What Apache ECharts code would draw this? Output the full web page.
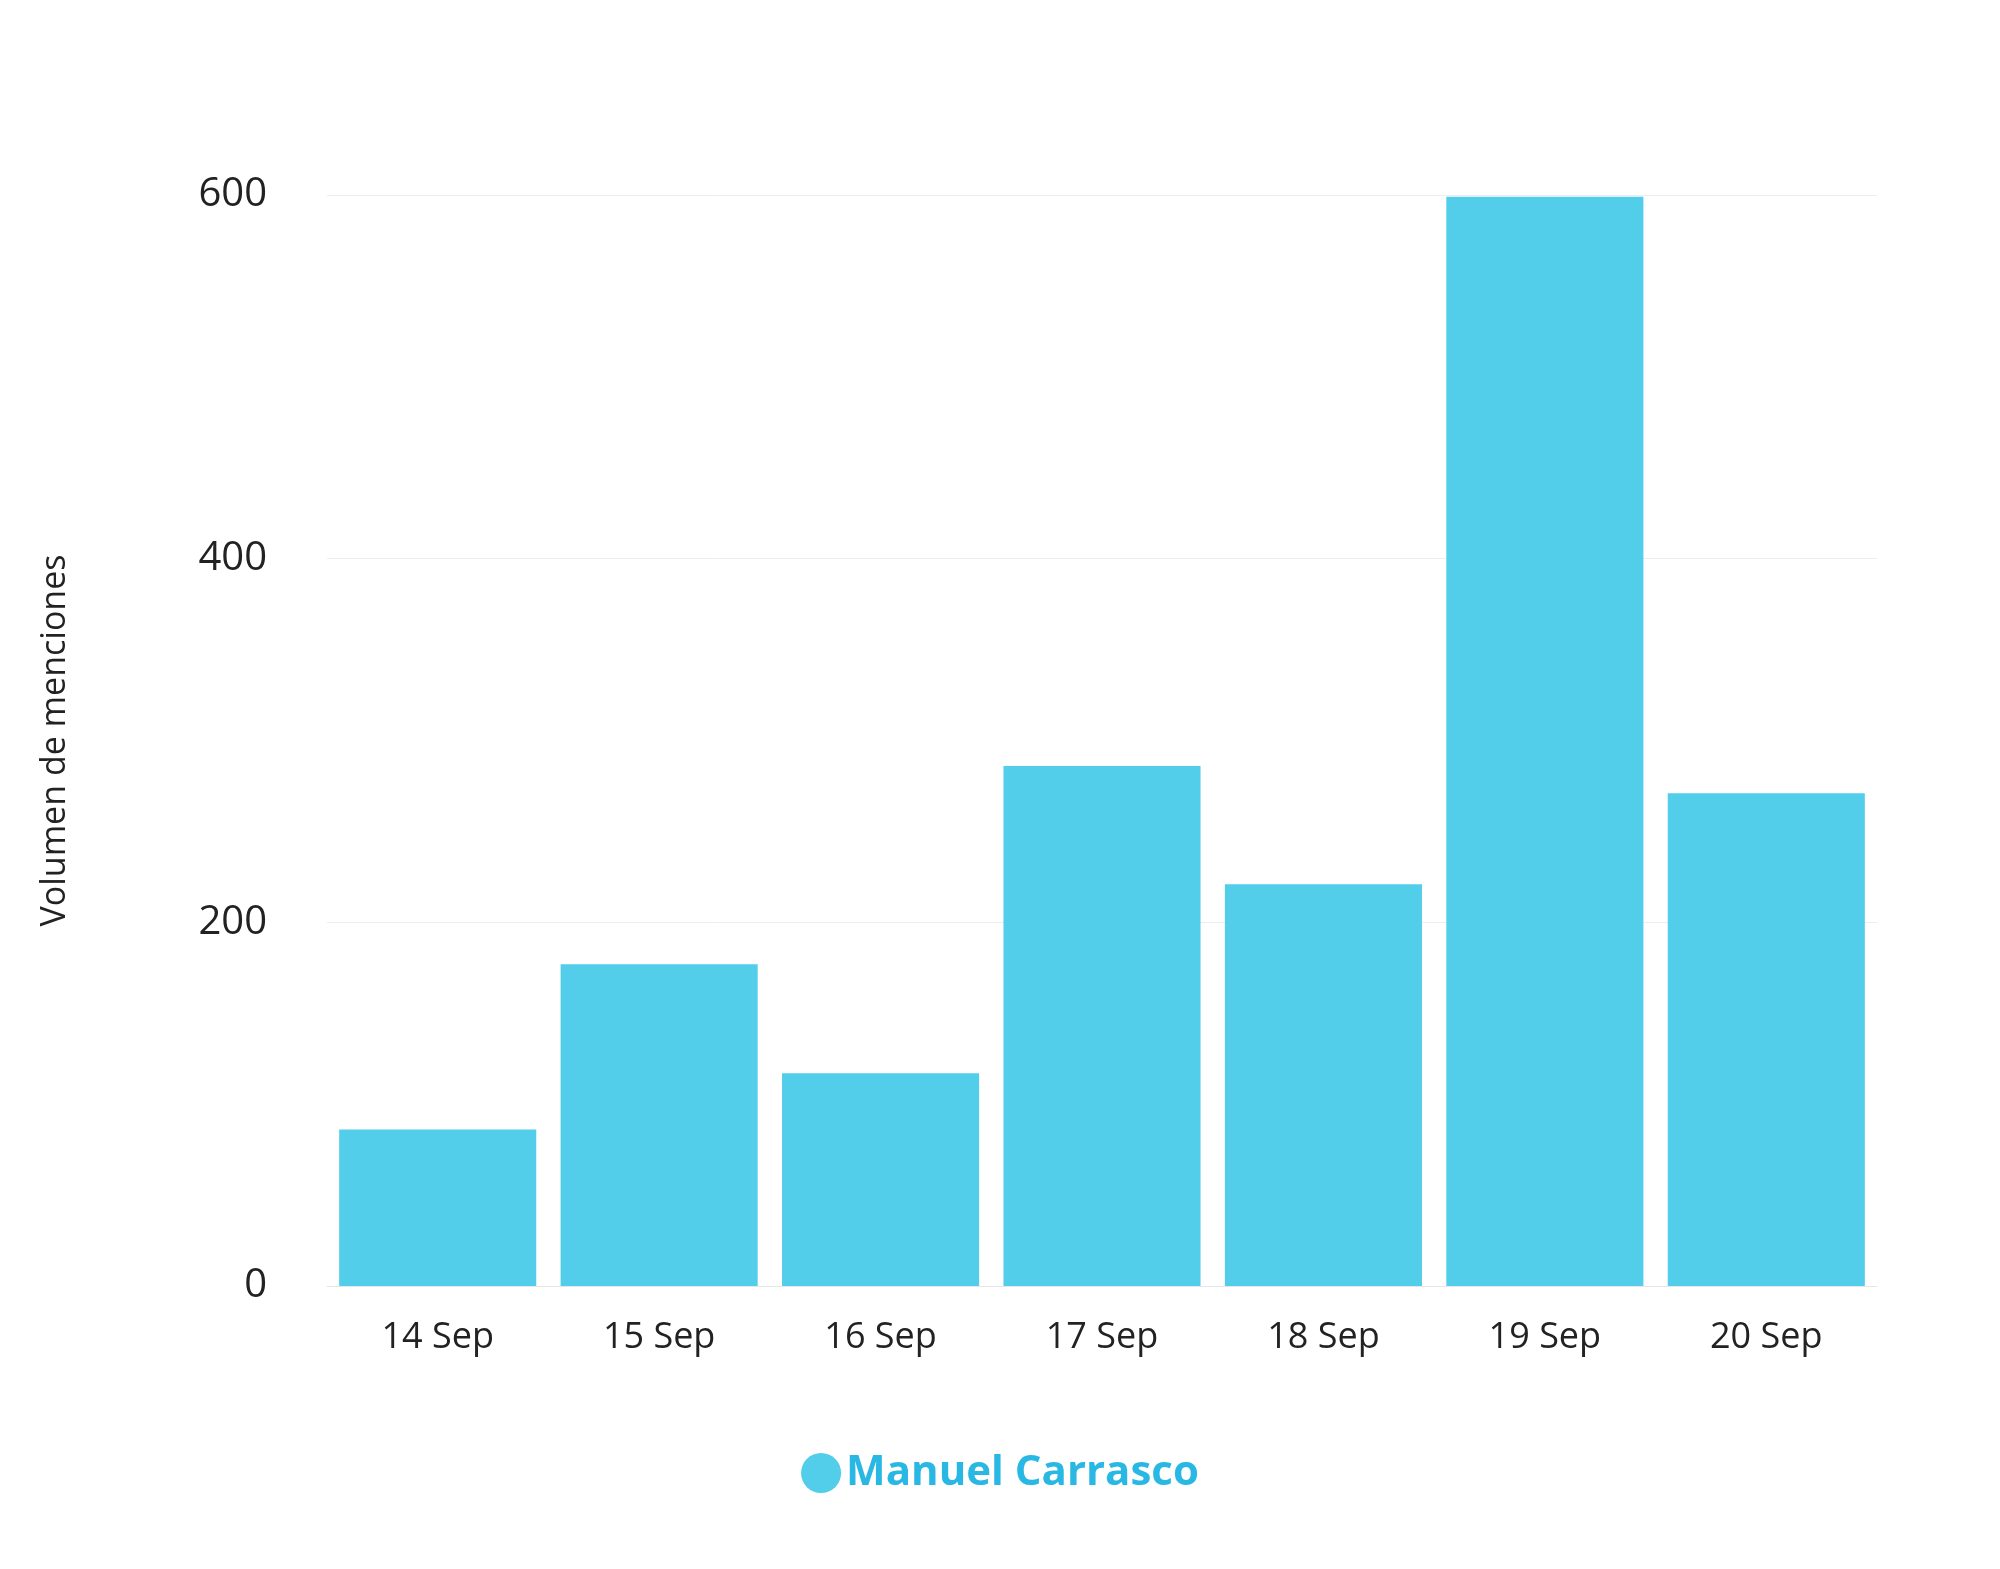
<!DOCTYPE html>
<html>
<head>
<meta charset="utf-8">
<script src="https://cdn.jsdelivr.net/npm/echarts@6/dist/echarts.min.js"></script>
<style>html,body{margin:0;background:#fff}#main{width:2000px;height:1569px}</style>
</head>
<body>
<div id="main"></div>
<script>
var days = ['14 Sep','15 Sep','16 Sep','17 Sep','18 Sep','19 Sep','20 Sep'];
var menciones = [86,177,117,286,221,599,271];
var yTicks = [0,200,400,600];

var myChart = echarts.init(document.getElementById('main'));
var option = {
    textStyle:{fontFamily:'Open Sans'},
    legend:{
        bottom:70, left:'center', icon:'circle', itemWidth:40, itemHeight:40,
        textStyle:{color:'#29b8e4', fontSize:42, fontWeight:'bold'},
        data:['Manuel Carrasco']
    },
    grid:{left:327, right:123, top:195, bottom:283},
    xAxis:{
        type:'category', data:days,
        axisLine:{lineStyle:{color:'#e6e6e6'}}, axisTick:{show:false},
        axisLabel:{color:'#222', fontSize:36, margin:34}
    },
    yAxis:{
        type:'value', min:yTicks[0], max:yTicks[yTicks.length-1], interval:200,
        name:'Volumen de menciones', nameLocation:'middle', nameGap:255,
        nameTextStyle:{color:'#222', fontSize:34},
        splitLine:{lineStyle:{color:'#ededed'}},
        axisLabel:{color:'#222', fontSize:40, margin:60}
    },
    series:[{
        name:'Manuel Carrasco', type:'bar', data:menciones,
        barCategoryGap:'11%', itemStyle:{color:'#52cdea'}
    }]
};
myChart.setOption(option);
</script>
</body>
</html>
